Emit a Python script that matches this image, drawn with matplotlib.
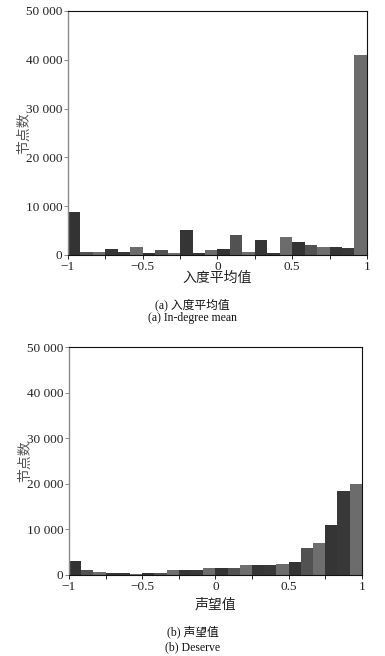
import numpy as np
import matplotlib
matplotlib.use('Agg')
import matplotlib.pyplot as plt

plt.rcParams['font.family'] = ['Liberation Serif', 'Noto Sans CJK SC']

# bin edges shared by both histograms (24 bins from -1 to 1)
bin_edges = np.linspace(-1, 1, 25)

# node counts per bin
indegree_counts = [8900, 600, 600, 1150, 600, 1600, 400, 950, 400, 5100, 400, 950,
                   1150, 4050, 600, 3050, 400, 3650, 2650, 2100, 1600, 1600, 1450, 41000]
deserve_counts = [3000, 1100, 650, 450, 450, 200, 450, 450, 1100, 1100, 1100, 1600,
                  1600, 1600, 2100, 2100, 2100, 2450, 2900, 6000, 7050, 10950, 18500, 20000]

x_ticks = [-1, -0.5, 0, 0.5, 1]
x_ticklabels = ['\u22121', '\u22120.5', '0', '0.5', '1']
y_ticks = [0, 10000, 20000, 30000, 40000, 50000]
y_ticklabels = ['0', '10 000', '20 000', '30 000', '40 000', '50 000']

panels = [
    ('入度平均值', '(a) 入度平均值', '(a) In-degree mean', indegree_counts),
    ('声望值', '(b) 声望值', '(b) Deserve', deserve_counts),
]

# grey shades repeat every 6 bars
shades = ['#333333', '#525252', '#6e6e6e', '#353535', '#383838', '#6c6c6c']

fig = plt.figure(figsize=(3.85, 6.56), dpi=100)
axes_rects = [[0.1766, 0.6113, 0.7764, 0.372], [0.179, 0.1235, 0.761, 0.3475]]
caption_y = [(0.535, 0.516), (0.037, 0.014)]
xlabel_y = [0.576, 0.078]

for rect, (xlab, cap_cn, cap_en, counts), (cy1, cy2), xly in zip(axes_rects, panels, caption_y, xlabel_y):
    ax = fig.add_axes(rect)
    lefts = bin_edges[:-1]
    widths = np.diff(bin_edges)
    colors = [shades[i % 6] for i in range(len(counts))]
    ax.bar(lefts, counts, width=widths, align='edge', color=colors, linewidth=0)

    ax.set_xlim(-1, 1)
    ax.set_ylim(0, 50000)
    ax.set_xticks(x_ticks)
    ax.set_xticklabels(x_ticklabels)
    ax.set_xticks(np.arange(-1, 1.01, 0.25), minor=True)
    ax.set_yticks(y_ticks)
    ax.set_yticklabels(y_ticklabels)
    ax.tick_params(axis='both', labelsize=9.5, direction='out', length=3, width=0.7,
                   colors='#222222', pad=1)
    ax.tick_params(axis='x', which='minor', length=3, width=0.7, color='#222222')
    ax.tick_params(axis='y', color='#888888')

    ax.spines['left'].set_color('#8a8a8a')
    ax.spines['left'].set_linewidth(1.0)
    for s in ['top', 'right', 'bottom']:
        ax.spines[s].set_color('#111111')
        ax.spines[s].set_linewidth(0.8)

    ax.set_ylabel('节点数', fontsize=10, color='#555555', labelpad=-4)
    fig.text(rect[0] + rect[2] / 2, xly, xlab, ha='center', va='center', fontsize=10,
             color='#222222')
    fig.text(0.5, cy1, cap_cn, ha='center', va='center', fontsize=8.5, color='#111111')
    fig.text(0.5, cy2, cap_en, ha='center', va='center', fontsize=8.5, color='#111111')

fig.savefig('out.png', dpi=100, facecolor='white')
